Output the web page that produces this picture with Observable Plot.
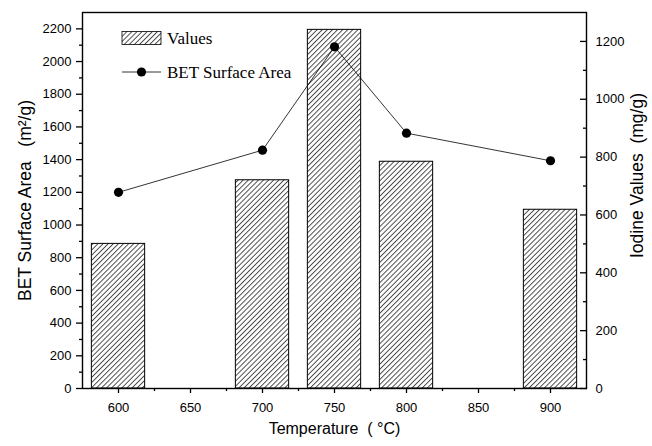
<!DOCTYPE html>
<html>
<head>
<meta charset="utf-8">
<script src="https://cdn.jsdelivr.net/npm/d3@7"></script>
<script src="https://cdn.jsdelivr.net/npm/@observablehq/plot@0.6"></script>
<style>
  html, body { margin: 0; padding: 0; background: white; }
  svg { display: block; }
</style>
</head>
<body>
<div id="chart"></div>
<script>
// Data
const temperatures = [600, 700, 750, 800, 900];          // °C
const iodineValues = [500, 720, 1240, 784, 618];         // mg/g (bars, right axis)
const betSurface   = [1200, 1458, 2090, 1562, 1393];     // m²/g (line, left axis)

const xTicks      = [600, 650, 700, 750, 800, 850, 900];
const xMinorTicks = [625, 675, 725, 775, 825, 875];
const leftTicks   = [0, 200, 400, 600, 800, 1000, 1200, 1400, 1600, 1800, 2000, 2200];
const leftMinor   = [100, 300, 500, 700, 900, 1100, 1300, 1500, 1700, 1900, 2100];
const rightTicks  = [0, 200, 400, 600, 800, 1000, 1200];
const rightMinor  = [100, 300, 500, 700, 900, 1100];

const xDomain = [575, 925];
const leftDomain = [0, 2300];
const rightDomain = [0, 1300];
const k = leftDomain[1] / rightDomain[1];   // right-axis units -> left-axis units
const barWidth = 37;                          // in °C

const rows = temperatures.map((t, i) => ({t, iodine: iodineValues[i], bet: betSurface[i]}));

const sp = "\u00a0";
const chart = Plot.plot({
  width: 652,
  height: 446,
  marginLeft: 82,
  marginRight: 66,
  marginTop: 12,
  marginBottom: 58,
  style: {fontFamily: "'Liberation Sans', Arial, sans-serif", fontSize: "13px", color: "black", background: "white", overflow: "visible"},
  x: {domain: xDomain},
  y: {domain: leftDomain},
  marks: [
    Plot.rectY(rows, {
      x1: d => d.t - barWidth / 2, x2: d => d.t + barWidth / 2,
      y1: 0, y2: d => d.iodine * k,
      fill: "url(#hatch)", stroke: "black", strokeWidth: 1
    }),
    Plot.line(rows, {x: "t", y: "bet", stroke: "black", strokeWidth: 0.8}),
    Plot.dot(rows, {x: "t", y: "bet", r: 4.6, fill: "black", stroke: "none"}),
    Plot.frame({stroke: "black", strokeWidth: 1.4}),
    // bottom axis
    Plot.axisX({ticks: xTicks, tickSize: 5, tickPadding: 9, tickFormat: "d", label: null, strokeWidth: 1.3}),
    Plot.axisX({ticks: xMinorTicks, tickSize: 3, text: null, label: null, strokeWidth: 1.3}),
    // left axis
    Plot.axisY({anchor: "left", ticks: leftTicks, tickSize: 6, tickPadding: 5, tickFormat: "d", label: null, strokeWidth: 1.3}),
    Plot.axisY({anchor: "left", ticks: leftMinor, tickSize: 3, text: null, label: null, strokeWidth: 1.3}),
    // right axis: ticks pointing inward, labels outside
    Plot.axisY({anchor: "right", ticks: rightTicks.map(v => v * k), tickSize: 7, dx: -7, text: null, label: null, strokeWidth: 1.3}),
    Plot.axisY({anchor: "right", ticks: rightMinor.map(v => v * k), tickSize: 4, dx: -4, text: null, label: null, strokeWidth: 1.3}),
    Plot.axisY({anchor: "right", ticks: rightTicks.map(v => v * k), tickSize: 0, tickPadding: 9, tickFormat: d => String(Math.round(d / k)), label: null}),
    // axis titles
    Plot.text([`BET Surface Area${sp}${sp}${sp}(m²/g)`], {frameAnchor: "left", dx: -57, rotate: -90, textAnchor: "middle", fontSize: 17.5}),
    Plot.text([`Iodine Values${sp}${sp}(mg/g)`], {frameAnchor: "right", dx: 51, dy: -25, rotate: -90, textAnchor: "middle", fontSize: 17.5}),
    Plot.text([`Temperature${sp}${sp}(${sp}°C)`], {frameAnchor: "bottom", dy: 45, textAnchor: "middle", fontSize: 16})
  ]
});

// Hatch pattern
const svg = d3.select(chart);
const defs = svg.insert("defs", ":first-child");
const pat = defs.append("pattern")
  .attr("id", "hatch")
  .attr("patternUnits", "userSpaceOnUse")
  .attr("width", 3.6).attr("height", 3.6)
  .attr("patternTransform", "rotate(45)");
pat.append("rect").attr("width", 3.6).attr("height", 3.6).attr("fill", "white");
pat.append("line").attr("x1", 0.5).attr("y1", 0).attr("x2", 0.5).attr("y2", 3.6)
  .attr("stroke", "#222").attr("stroke-width", 0.8);

// Legend (inside plot area, top-left)
const lg = svg.append("g").attr("font-family", "'Liberation Serif', 'Times New Roman', serif")
  .attr("font-size", 17).attr("fill", "black").attr("text-anchor", "start");
lg.append("rect").attr("x", 122).attr("y", 31.5).attr("width", 39).attr("height", 13)
  .attr("fill", "url(#hatch)").attr("stroke", "black").attr("stroke-width", 0.8);
lg.append("text").attr("x", 167).attr("y", 44).attr("text-anchor", "start").text("Values");
lg.append("line").attr("x1", 122).attr("x2", 161).attr("y1", 72).attr("y2", 72)
  .attr("stroke", "black").attr("stroke-width", 0.8);
lg.append("circle").attr("cx", 141.5).attr("cy", 72).attr("r", 4.6).attr("fill", "black");
lg.append("text").attr("x", 167).attr("y", 78).attr("text-anchor", "start").text("BET Surface Area");

document.getElementById("chart").appendChild(chart);
</script>
</body>
</html>
